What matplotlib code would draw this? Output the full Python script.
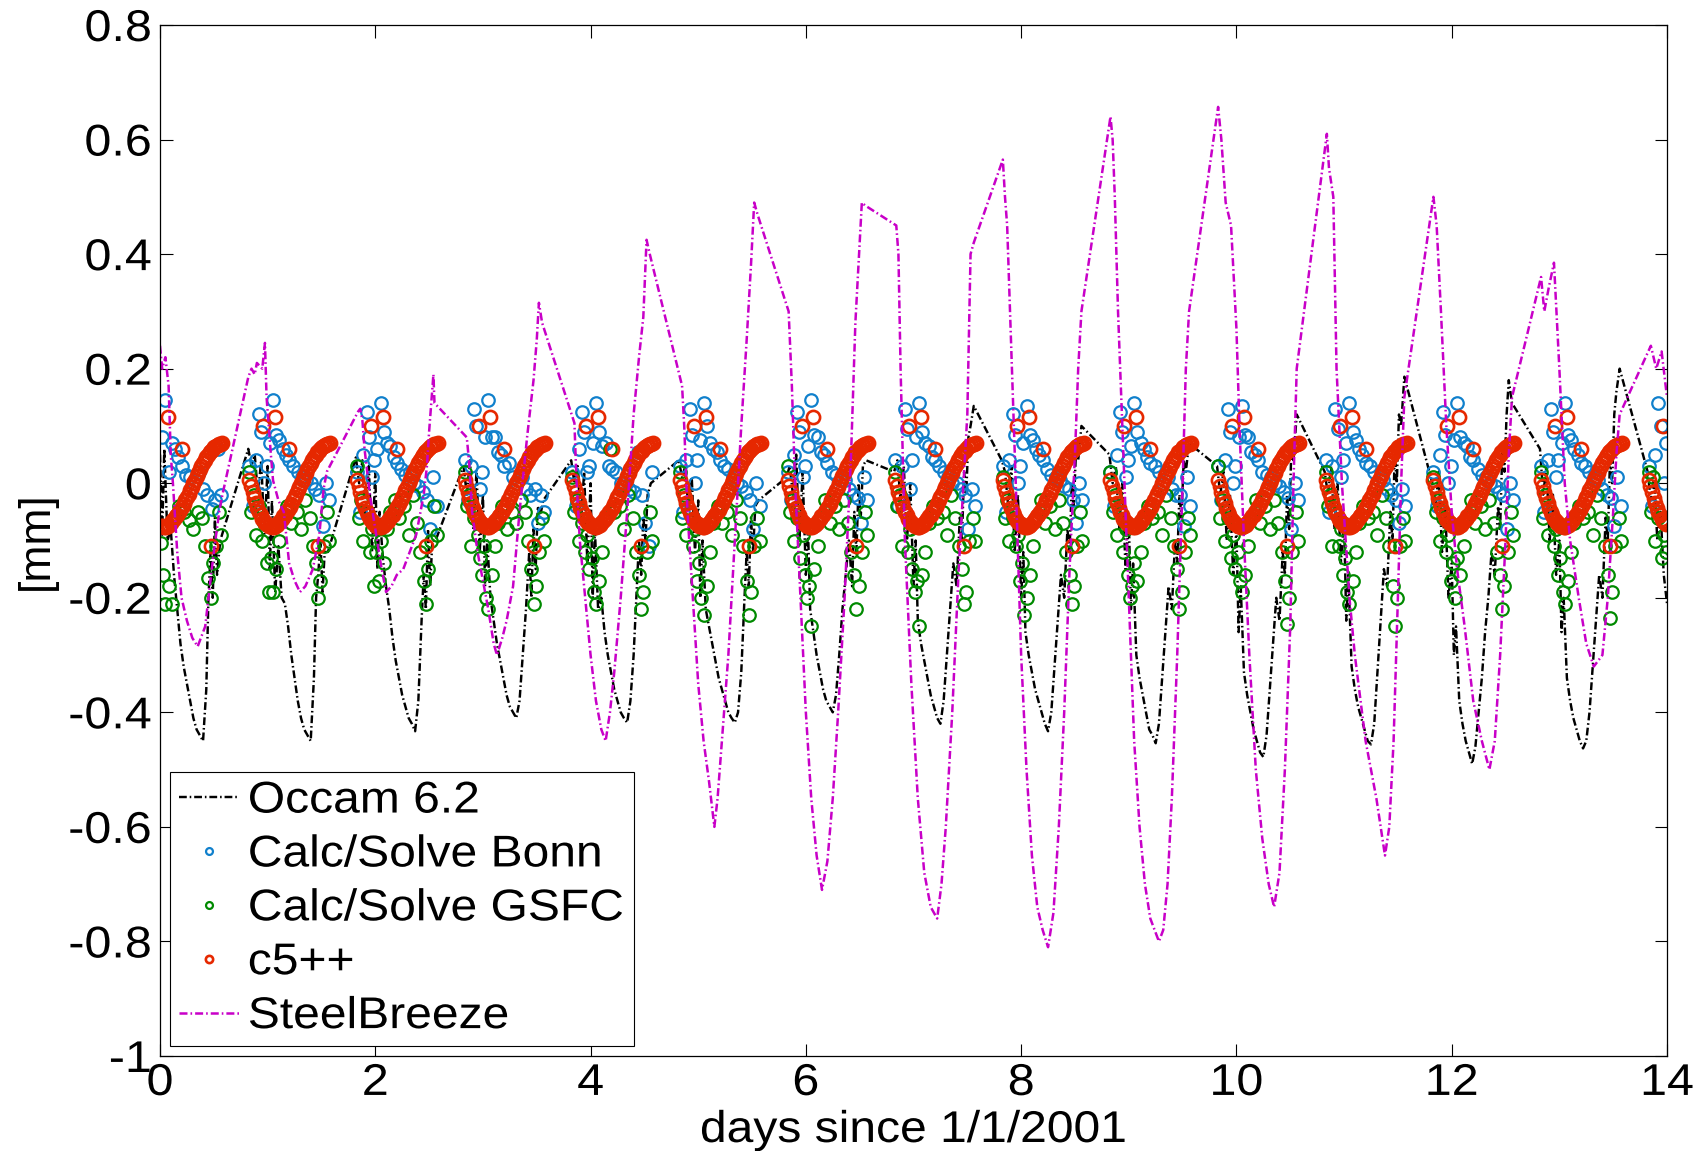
import numpy as np
import matplotlib
matplotlib.use('Agg')
import matplotlib.pyplot as plt
from matplotlib.patheffects import AbstractPathEffect
from matplotlib.transforms import Affine2D

plt.rcParams['font.family'] = ['Liberation Sans', 'DejaVu Sans']
plt.rcParams['axes.unicode_minus'] = False

nan = np.nan
session_days = list(range(15))

# ---------------- Occam 6.2 (black dash-dot) ----------------
occam_offsets = [-0.18, -0.15, -0.12, -0.09, -0.06, -0.03, 0.0, 0.02, 0.04, 0.07,
                 0.10, 0.13, 0.16, 0.19, 0.22, 0.25, 0.28, 0.31, 0.34, 0.37,
                 0.40, 0.43, 0.45, 0.47, 0.49, 0.51, 0.53, 0.56]
occam_daily = [
    [nan, nan, nan, nan, nan, nan, 0.05, -0.09, 0.06, -0.1, -0.08, -0.16, -0.22, -0.28, -0.32, -0.35, -0.38, -0.41, -0.43, -0.44, -0.45, -0.36, -0.2, -0.12, -0.2, -0.06, -0.16, -0.1],
    [0.06, 0.03, 0.05, -0.02, 0.04, -0.09, 0.03, -0.15, -0.03, -0.19, -0.11, -0.2, -0.21, -0.25, -0.3, -0.34, -0.38, -0.41, -0.43, -0.44, -0.45, -0.34, -0.2, -0.16, -0.1, -0.19, -0.12, -0.12],
    [0.045, 0.0, 0.04, -0.06, 0.03, -0.12, 0.02, -0.15, -0.05, -0.13, -0.18, -0.22, -0.27, -0.31, -0.34, -0.37, -0.39, -0.41, -0.42, -0.433, -0.38, -0.24, -0.16, -0.22, -0.08, -0.18, -0.1, -0.1],
    [0.03, -0.02, 0.04, -0.08, 0.02, -0.12, -0.02, -0.18, -0.1, -0.2, -0.24, -0.28, -0.31, -0.34, -0.37, -0.39, -0.4, -0.41, -0.38, -0.3, -0.22, -0.12, -0.2, -0.08, -0.15, -0.04, -0.06, -0.03],
    [0.04, 0.0, 0.03, -0.07, 0.02, -0.14, 0.0, -0.2, -0.08, -0.22, -0.2, -0.26, -0.3, -0.33, -0.36, -0.38, -0.4, -0.41, -0.418, -0.38, -0.3, -0.18, -0.1, -0.16, -0.06, -0.1, -0.02, 0.0],
    [0.04, 0.01, 0.03, -0.05, 0.01, -0.12, -0.03, -0.2, -0.1, -0.22, -0.25, -0.28, -0.31, -0.34, -0.36, -0.38, -0.4, -0.41, -0.418, -0.4, -0.33, -0.2, -0.12, -0.18, -0.06, -0.12, -0.04, -0.03],
    [0.01, 0.03, -0.02, 0.05, -0.1, 0.02, -0.16, -0.08, -0.22, -0.26, -0.3, -0.33, -0.36, -0.38, -0.39, -0.4, -0.37, -0.3, -0.22, -0.16, -0.1, -0.18, -0.05, -0.12, 0.0, -0.06, 0.03, 0.04],
    [0.02, 0.04, -0.03, 0.03, -0.1, 0.0, -0.18, -0.1, -0.24, -0.28, -0.31, -0.34, -0.37, -0.39, -0.41, -0.42, -0.38, -0.3, -0.22, -0.14, -0.18, -0.06, -0.1, 0.02, -0.02, 0.08, 0.1, 0.135],
    [0.04, 0.02, -0.04, 0.03, -0.12, -0.02, -0.2, -0.12, -0.26, -0.3, -0.33, -0.36, -0.38, -0.4, -0.42, -0.433, -0.4, -0.32, -0.24, -0.16, -0.2, -0.08, -0.12, 0.0, -0.04, 0.06, 0.04, 0.1],
    [0.05, 0.0, 0.03, -0.08, 0.0, -0.15, -0.06, -0.22, -0.14, -0.3, -0.34, -0.37, -0.4, -0.43, -0.44, -0.454, -0.42, -0.34, -0.26, -0.18, -0.22, -0.1, -0.14, -0.02, -0.06, 0.04, 0.02, 0.07],
    [0.03, -0.02, 0.02, -0.1, -0.02, -0.16, -0.08, -0.26, -0.18, -0.33, -0.37, -0.4, -0.43, -0.45, -0.47, -0.478, -0.44, -0.36, -0.28, -0.2, -0.24, -0.12, -0.16, -0.02, -0.08, 0.06, 0.04, 0.12],
    [0.02, -0.02, 0.03, -0.08, 0.0, -0.14, -0.06, -0.24, -0.16, -0.32, -0.36, -0.39, -0.41, -0.43, -0.45, -0.456, -0.42, -0.33, -0.24, -0.15, -0.18, -0.05, -0.1, 0.05, 0.0, 0.12, 0.1, 0.186],
    [0.0, -0.04, 0.02, -0.12, -0.04, -0.2, -0.14, -0.3, -0.25, -0.38, -0.42, -0.45, -0.47, -0.49, -0.46, -0.4, -0.34, -0.26, -0.2, -0.12, -0.16, -0.04, -0.08, 0.06, 0.02, 0.12, 0.18, 0.14],
    [0.06, -0.02, 0.03, -0.1, -0.02, -0.16, -0.1, -0.26, -0.2, -0.34, -0.38, -0.41, -0.43, -0.45, -0.463, -0.45, -0.4, -0.32, -0.24, -0.16, -0.2, -0.06, -0.1, 0.04, 0.0, 0.12, 0.16, 0.2],
    [0.02, -0.03, 0.01, -0.1, -0.05, -0.16, -0.21, nan, nan, nan, nan, nan, nan, nan, nan, nan, nan, nan, nan, nan, nan, nan, nan, nan, nan, nan, nan, nan],
]

# ---------------- Calc/Solve Bonn (blue circles) ----------------
bonn_offsets = [-0.17, -0.14, -0.11, -0.08, -0.06, -0.03, -0.01, 0.02, 0.05, 0.08,
                0.11, 0.14, 0.17, 0.20, 0.24, 0.28, 0.32, 0.36, 0.40, 0.44,
                0.48, 0.51, 0.54, 0.57]
bonn_daily = [
    [nan, nan, nan, nan, nan, nan, nan, 0.08, 0.145, 0.02, 0.07, 0.06, 0.045, 0.03, 0.015, 0.01, 0.0, 0.02, -0.01, -0.02, -0.045, -0.03, 0.06, -0.02],
    [0.03, -0.04, 0.04, 0.12, 0.09, 0.0, 0.03, 0.07, 0.145, 0.085, 0.075, 0.06, 0.05, 0.04, 0.03, 0.02, 0.01, 0.005, 0.0, -0.01, -0.02, -0.075, 0.0, -0.03],
    [0.02, -0.05, 0.05, 0.125, 0.08, 0.01, 0.04, 0.06, 0.14, 0.09, 0.07, 0.065, 0.045, 0.035, 0.025, 0.015, 0.02, 0.0, -0.005, -0.015, -0.03, -0.08, 0.01, -0.04],
    [0.04, -0.03, 0.03, 0.13, 0.1, -0.01, 0.02, 0.08, 0.145, 0.08, 0.08, 0.055, 0.05, 0.03, 0.035, 0.01, 0.0, 0.01, -0.01, -0.02, -0.01, -0.07, -0.02, -0.05],
    [0.02, -0.04, 0.06, 0.124, 0.09, 0.02, 0.03, 0.07, 0.14, 0.09, 0.065, 0.07, 0.03, 0.025, 0.02, 0.0, -0.005, -0.01, -0.015, 0.055, -0.02, -0.07, -0.11, 0.02],
    [0.03, -0.05, 0.04, 0.13, 0.085, 0.0, 0.04, 0.075, 0.14, 0.1, 0.07, 0.06, 0.055, 0.04, 0.03, 0.025, 0.01, 0.0, -0.005, -0.015, -0.03, -0.08, 0.0, -0.04],
    [0.02, -0.03, 0.05, 0.125, 0.09, 0.01, 0.03, 0.065, 0.145, 0.085, 0.08, 0.055, 0.05, 0.035, 0.02, 0.015, 0.005, 0.005, -0.01, -0.02, -0.025, -0.07, 0.01, -0.03],
    [0.04, -0.04, 0.03, 0.13, 0.095, -0.01, 0.04, 0.08, 0.14, 0.09, 0.07, 0.065, 0.045, 0.04, 0.03, 0.02, 0.01, 0.0, 0.0, -0.01, -0.02, -0.08, -0.01, -0.04],
    [0.03, -0.05, 0.04, 0.12, 0.085, 0.0, 0.03, 0.07, 0.135, 0.085, 0.075, 0.06, 0.05, 0.04, 0.025, 0.015, 0.01, 0.005, -0.005, -0.01, -0.03, -0.07, 0.0, -0.03],
    [0.02, -0.04, 0.05, 0.125, 0.09, 0.01, 0.04, 0.065, 0.14, 0.09, 0.07, 0.06, 0.045, 0.035, 0.03, 0.02, 0.0, 0.01, -0.01, -0.02, -0.02, -0.075, 0.01, -0.04],
    [0.03, -0.03, 0.04, 0.13, 0.09, 0.0, 0.03, 0.08, 0.135, 0.085, 0.08, 0.055, 0.05, 0.04, 0.02, 0.015, 0.01, 0.0, -0.005, -0.015, -0.025, -0.08, 0.0, -0.03],
    [0.04, -0.05, 0.03, 0.13, 0.095, 0.01, 0.04, 0.07, 0.14, 0.09, 0.075, 0.06, 0.05, 0.035, 0.03, 0.02, 0.005, 0.005, -0.01, -0.02, -0.03, -0.07, -0.01, -0.04],
    [0.02, -0.04, 0.05, 0.125, 0.085, 0.0, 0.03, 0.075, 0.14, 0.08, 0.07, 0.065, 0.045, 0.04, 0.025, 0.015, 0.01, 0.0, -0.005, -0.015, -0.02, -0.08, 0.0, -0.03],
    [0.03, -0.05, 0.04, 0.13, 0.09, 0.01, 0.04, 0.07, 0.14, 0.085, 0.075, 0.06, 0.05, 0.035, 0.03, 0.02, 0.01, 0.005, -0.01, -0.02, -0.025, -0.075, 0.01, -0.04],
    [0.03, -0.04, 0.05, 0.14, 0.1, 0.0, 0.07, nan, nan, nan, nan, nan, nan, nan, nan, nan, nan, nan, nan, nan, nan, nan, nan, nan],
]

# ---------------- Calc/Solve GSFC (green circles) ----------------
gsfc_offsets = [-0.17, -0.15, -0.13, -0.11, -0.08, -0.05, -0.03, -0.01, 0.01, 0.03,
                0.05, 0.08, 0.11, 0.14, 0.18, 0.22, 0.27, 0.31, 0.35, 0.39,
                0.42, 0.45, 0.47, 0.49, 0.52, 0.55, 0.57]
gsfc_daily = [
    [nan, nan, nan, nan, nan, nan, nan, nan, -0.105, -0.16, -0.21, -0.18, -0.21, -0.06, -0.04, -0.05, -0.065, -0.08, -0.05, -0.06, -0.11, -0.165, -0.2, -0.14, -0.11, -0.05, -0.09],
    [0.02, -0.05, -0.02, -0.09, -0.04, -0.1, -0.07, -0.14, -0.19, -0.13, -0.19, -0.15, -0.1, -0.06, -0.04, -0.07, -0.05, -0.08, -0.03, -0.06, -0.11, -0.14, -0.2, -0.17, -0.11, -0.05, -0.1],
    [0.03, -0.06, -0.03, -0.1, -0.05, -0.12, -0.08, -0.18, -0.12, -0.17, -0.1, -0.14, -0.08, -0.05, -0.03, -0.06, -0.04, -0.09, -0.02, -0.07, -0.12, -0.17, -0.21, -0.15, -0.1, -0.04, -0.09],
    [0.02, -0.04, -0.02, -0.11, -0.06, -0.09, -0.13, -0.16, -0.11, -0.2, -0.22, -0.16, -0.11, -0.07, -0.04, -0.08, -0.05, -0.07, -0.03, -0.05, -0.1, -0.15, -0.21, -0.18, -0.12, -0.06, -0.1],
    [0.01, -0.05, -0.03, -0.1, -0.07, -0.12, -0.09, -0.15, -0.13, -0.19, -0.21, -0.17, -0.12, -0.06, 0.06, -0.05, -0.04, -0.08, -0.02, -0.06, -0.12, -0.16, -0.22, -0.19, -0.12, -0.05, -0.1],
    [0.02, -0.06, -0.02, -0.09, -0.05, -0.11, -0.08, -0.17, -0.14, -0.2, -0.23, -0.18, -0.12, -0.07, -0.04, -0.07, -0.05, -0.09, -0.03, -0.06, -0.11, -0.17, -0.23, -0.19, -0.11, -0.06, -0.1],
    [0.03, -0.05, -0.03, -0.1, -0.06, -0.13, -0.09, -0.16, -0.2, -0.18, -0.25, -0.15, -0.11, -0.06, -0.03, -0.07, -0.04, -0.08, -0.03, -0.07, -0.12, -0.16, -0.22, -0.18, -0.12, -0.05, -0.09],
    [0.02, -0.04, -0.02, -0.11, -0.05, -0.12, -0.08, -0.15, -0.19, -0.17, -0.25, -0.16, -0.12, -0.07, -0.04, -0.06, -0.05, -0.09, -0.02, -0.06, -0.11, -0.15, -0.21, -0.19, -0.1, -0.06, -0.1],
    [0.01, -0.06, -0.03, -0.1, -0.06, -0.11, -0.09, -0.17, -0.14, -0.23, -0.2, -0.16, -0.11, -0.06, -0.03, -0.07, -0.04, -0.08, -0.03, -0.07, -0.12, -0.16, -0.21, -0.18, -0.11, -0.05, -0.1],
    [0.02, -0.05, -0.02, -0.09, -0.05, -0.12, -0.08, -0.16, -0.2, -0.18, -0.14, -0.17, -0.12, -0.07, -0.04, -0.06, -0.05, -0.09, -0.02, -0.06, -0.11, -0.15, -0.22, -0.19, -0.12, -0.06, -0.09],
    [0.03, -0.06, -0.03, -0.1, -0.06, -0.13, -0.09, -0.15, -0.12, -0.17, -0.19, -0.16, -0.11, -0.06, -0.03, -0.07, -0.04, -0.08, -0.03, -0.07, -0.12, -0.17, -0.245, -0.2, -0.12, -0.05, -0.1],
    [0.02, -0.04, -0.02, -0.11, -0.05, -0.11, -0.08, -0.16, -0.13, -0.19, -0.21, -0.17, -0.12, -0.07, -0.04, -0.06, -0.05, -0.09, -0.02, -0.06, -0.11, -0.18, -0.25, -0.2, -0.11, -0.06, -0.1],
    [0.01, -0.05, -0.03, -0.1, -0.06, -0.12, -0.09, -0.17, -0.14, -0.2, -0.13, -0.16, -0.11, -0.06, -0.03, -0.07, -0.04, -0.08, -0.03, -0.07, -0.12, -0.16, -0.22, -0.18, -0.12, -0.05, -0.09],
    [0.02, -0.06, -0.02, -0.09, -0.05, -0.11, -0.08, -0.16, -0.13, -0.19, -0.21, -0.17, -0.12, -0.07, -0.04, -0.06, -0.05, -0.09, -0.02, -0.06, -0.11, -0.16, -0.235, -0.19, -0.11, -0.06, -0.1],
    [0.02, -0.05, 0.01, -0.1, -0.06, -0.13, -0.09, -0.12, nan, nan, nan, nan, nan, nan, nan, nan, nan, nan, nan, nan, nan, nan, nan, nan, nan, nan, nan],
]

# ---------------- c5++ (red circles): daily curve + scattered epochs ----------------
c5_curve_offsets = [-0.17, -0.155, -0.14, -0.125, -0.11, -0.095, -0.08, -0.065, -0.05, -0.035,
                    -0.02, -0.005, 0.01, 0.025, 0.04, 0.055, 0.07, 0.085, 0.10, 0.115,
                    0.13, 0.145, 0.16, 0.175, 0.19, 0.205, 0.22, 0.235, 0.25, 0.265,
                    0.28, 0.295, 0.31, 0.325, 0.34, 0.355, 0.37, 0.385, 0.40, 0.415,
                    0.43, 0.445, 0.46, 0.475, 0.49, 0.505, 0.52, 0.535, 0.55, 0.565, 0.58]
c5_curve_values = [0.005, -0.005, -0.015, -0.025, -0.035, -0.043, -0.05, -0.056, -0.062, -0.066,
                   -0.069, -0.072, -0.074, -0.075, -0.076, -0.076, -0.075, -0.073, -0.07, -0.066,
                   -0.062, -0.058, -0.055, -0.051, -0.047, -0.042, -0.036, -0.03, -0.024, -0.018,
                   -0.012, -0.006, 0.0, 0.006, 0.012, 0.018, 0.024, 0.03, 0.036, 0.041,
                   0.046, 0.05, 0.054, 0.057, 0.06, 0.063, 0.065, 0.067, 0.068, 0.069, 0.07]
c5_extra_offsets = [-0.04, 0.07, 0.20, 0.47]
c5_extra_values = [0.10, 0.115, 0.06, -0.11]

# ---------------- SteelBreeze (magenta dash-dot), vertices (day, mm) ----------------
sb_vertices = [
    (0.00, 0.24), (0.02, 0.20), (0.05, 0.22), (0.08, 0.17), (0.10, 0.05), (0.12, 0.0), (0.16, -0.12),
    (0.20, -0.20), (0.25, -0.24), (0.30, -0.27), (0.35, -0.285), (0.38, -0.27), (0.42, -0.25),
    (0.45, -0.20), (0.50, -0.12), (0.55, -0.05), (0.58, -0.02),
    (0.82, 0.185), (0.85, 0.20), (0.88, 0.19), (0.90, 0.21), (0.95, 0.20), (0.975, 0.245), (0.99, 0.15),
    (1.03, 0.05), (1.05, 0.005), (1.10, -0.03), (1.15, -0.05), (1.20, -0.14), (1.25, -0.17), (1.30, -0.19),
    (1.35, -0.18), (1.42, -0.15), (1.48, -0.09), (1.52, -0.01), (1.55, 0.02),
    (1.84, 0.125), (1.86, 0.13), (1.88, 0.11), (1.90, 0.06), (1.95, -0.02), (2.00, -0.08), (2.05, -0.14),
    (2.10, -0.19), (2.15, -0.18), (2.20, -0.16), (2.26, -0.15), (2.32, -0.12), (2.38, -0.09), (2.45, -0.02),
    (2.48, 0.03), (2.50, 0.09), (2.54, 0.19), (2.55, 0.14),
    (2.85, 0.08), (2.87, 0.04), (2.90, -0.05), (2.95, -0.12), (3.00, -0.17), (3.05, -0.22), (3.10, -0.28),
    (3.13, -0.30), (3.18, -0.27), (3.22, -0.24), (3.28, -0.18), (3.34, -0.05), (3.41, 0.08), (3.47, 0.18),
    (3.50, 0.25), (3.52, 0.315), (3.55, 0.28),
    (3.85, 0.105), (3.87, 0.0), (3.90, -0.10), (3.95, -0.20), (4.00, -0.30), (4.05, -0.38), (4.10, -0.43),
    (4.14, -0.45), (4.18, -0.40), (4.22, -0.33), (4.28, -0.20), (4.34, -0.05), (4.40, 0.12), (4.45, 0.22),
    (4.49, 0.29), (4.52, 0.425), (4.55, 0.40),
    (4.85, 0.17), (4.87, 0.10), (4.90, -0.05), (4.95, -0.20), (5.00, -0.35), (5.05, -0.45), (5.10, -0.52),
    (5.15, -0.60), (5.18, -0.55), (5.22, -0.45), (5.28, -0.30), (5.34, -0.10), (5.40, 0.10), (5.45, 0.25),
    (5.49, 0.38), (5.52, 0.49), (5.55, 0.47),
    (5.84, 0.30), (5.87, 0.17), (5.90, 0.0), (5.95, -0.20), (6.00, -0.40), (6.05, -0.55), (6.10, -0.65),
    (6.15, -0.71), (6.20, -0.66), (6.25, -0.55), (6.30, -0.40), (6.36, -0.20), (6.42, 0.05), (6.46, 0.28),
    (6.52, 0.49), (6.55, 0.485),
    (6.84, 0.45), (6.86, 0.40), (6.88, 0.20), (6.92, -0.10), (6.98, -0.35), (7.04, -0.55), (7.10, -0.68),
    (7.16, -0.74), (7.22, -0.76), (7.26, -0.70), (7.30, -0.60), (7.36, -0.40), (7.42, -0.15), (7.48, 0.05),
    (7.50, 0.12), (7.53, 0.40), (7.56, 0.42),
    (7.83, 0.565), (7.85, 0.50), (7.87, 0.45), (7.90, 0.28), (7.95, 0.0), (8.00, -0.30), (8.05, -0.50),
    (8.10, -0.65), (8.15, -0.74), (8.20, -0.78), (8.25, -0.81), (8.30, -0.75), (8.35, -0.60), (8.40, -0.40),
    (8.45, -0.15), (8.50, 0.05), (8.53, 0.20), (8.56, 0.30),
    (8.83, 0.64), (8.85, 0.60), (8.87, 0.50), (8.90, 0.30), (8.95, 0.05), (9.00, -0.20), (9.05, -0.45),
    (9.10, -0.60), (9.15, -0.70), (9.20, -0.76), (9.28, -0.80), (9.32, -0.78), (9.36, -0.70), (9.40, -0.55),
    (9.45, -0.30), (9.50, 0.0), (9.53, 0.20), (9.56, 0.30),
    (9.83, 0.657), (9.86, 0.60), (9.90, 0.49), (9.95, 0.45), (10.00, 0.27), (10.03, 0.09), (10.07, -0.10),
    (10.12, -0.30), (10.18, -0.50), (10.24, -0.62), (10.30, -0.70), (10.35, -0.74), (10.40, -0.68),
    (10.45, -0.50), (10.50, -0.25), (10.53, 0.0), (10.56, 0.20),
    (10.84, 0.61), (10.86, 0.55), (10.90, 0.50), (10.93, 0.20), (10.98, 0.0), (11.05, -0.20), (11.10, -0.30),
    (11.20, -0.45), (11.30, -0.55), (11.38, -0.65), (11.42, -0.60), (11.46, -0.45), (11.50, -0.20),
    (11.53, 0.0), (11.56, 0.15),
    (11.83, 0.50), (11.86, 0.45), (11.90, 0.30), (11.95, 0.10), (12.00, -0.05), (12.05, -0.15), (12.12, -0.25),
    (12.20, -0.38), (12.28, -0.45), (12.35, -0.50), (12.40, -0.45), (12.45, -0.30), (12.50, -0.10),
    (12.53, 0.05), (12.56, 0.15),
    (12.83, 0.36), (12.86, 0.30), (12.90, 0.34), (12.95, 0.385), (13.00, 0.20), (13.05, 0.0), (13.10, -0.10),
    (13.18, -0.20), (13.25, -0.28), (13.32, -0.32), (13.40, -0.30), (13.45, -0.20), (13.50, -0.05),
    (13.53, 0.05), (13.56, 0.12),
    (13.85, 0.24), (13.90, 0.20), (13.95, 0.23), (14.00, 0.15),
]

tick_x = [0, 2, 4, 6, 8, 10, 12, 14]
tick_y = [-1, -0.8, -0.6, -0.4, -0.2, 0, 0.2, 0.4, 0.6, 0.8]
tick_y_labels = ['-1', '-0.8', '-0.6', '-0.4', '-0.2', '0', '0.2', '0.4', '0.6', '0.8']


def expand(offsets, rows):
    xs, ys = [], []
    for d, row in zip(session_days, rows):
        for o, v in zip(offsets, row):
            x = d + o
            if v != v or x < 0 or x > 14:
                continue
            xs.append(x)
            ys.append(v)
    return np.array(xs), np.array(ys)


class HStretch(AbstractPathEffect):
    """Widen glyphs horizontally (the reference text is slightly stretched)."""
    def __init__(self, sx=1.09, anchor='center'):
        super().__init__()
        self.sx = sx
        self.anchor = anchor

    def draw_path(self, renderer, gc, tpath, affine, rgbFace=None):
        ext = tpath.get_extents()
        if self.anchor == 'left':
            cx = 0.0
        elif self.anchor == 'right':
            cx = ext.x1
        else:
            cx = 0.5 * (ext.x0 + ext.x1)
        t = Affine2D().translate(-cx, 0).scale(self.sx, 1.0).translate(cx, 0) + affine
        renderer.draw_path(gc, tpath, t, rgbFace)


occam_x, occam_y = expand(occam_offsets, occam_daily)
bonn_x, bonn_y = expand(bonn_offsets, bonn_daily)
gsfc_x, gsfc_y = expand(gsfc_offsets, gsfc_daily)
c5_x1, c5_y1 = expand(c5_curve_offsets, [c5_curve_values] * len(session_days))
c5_x2, c5_y2 = expand(c5_extra_offsets, [c5_extra_values] * len(session_days))
c5_x = np.concatenate([c5_x1, c5_x2])
c5_y = np.concatenate([c5_y1, c5_y2])
sb_x = np.array([p[0] for p in sb_vertices])
sb_y = np.array([p[1] for p in sb_vertices])

BLUE = '#1080cc'
GREEN = '#008a00'
RED = '#e62800'
MAGENTA = '#c800c8'
dashdot = (0, (3.2, 1.2, 0.65, 1.2))

fig = plt.figure(figsize=(16.96, 11.51), dpi=100)
ax = fig.add_axes([160 / 1696, 1 - 1056 / 1151, 1507 / 1696, 1031 / 1151])

ax.plot(occam_x, occam_y, color='k', lw=1.75, ls=dashdot, label='Occam 6.2')
ax.plot(bonn_x, bonn_y, 'o', mfc='none', mec=BLUE, ms=9, mew=1.6, label='Calc/Solve Bonn')
ax.plot(gsfc_x, gsfc_y, 'o', mfc='none', mec=GREEN, ms=9, mew=1.6, label='Calc/Solve GSFC')
ax.plot(c5_x, c5_y, 'o', mfc='none', mec=RED, ms=9.5, mew=1.9, label='c5++')
ax.plot(sb_x, sb_y, color=MAGENTA, lw=1.8, ls=dashdot, label='SteelBreeze')

ax.set_xlim(0, 14)
ax.set_ylim(-1, 0.8)
ax.set_xticks(tick_x)
ax.set_xticklabels([str(t) for t in tick_x])
ax.set_yticks(tick_y)
ax.set_yticklabels(tick_y_labels)
ax.tick_params(direction='in', length=9, width=0.8, top=True, right=True, labelsize=32)
ax.tick_params(axis='x', pad=5)
ax.tick_params(axis='y', pad=6)
for s in ax.spines.values():
    s.set_linewidth(0.9)

for t in ax.xaxis.get_major_ticks():
    t.label1.set_path_effects([HStretch(1.09, 'center')])
for t in ax.yaxis.get_major_ticks():
    t.label1.set_path_effects([HStretch(1.09, 'right')])

ax.set_xlabel('days since 1/1/2001', fontsize=32)
ax.xaxis.set_label_coords(0.5, -(1110 - 1056) / 1031)
ax.xaxis.label.set_path_effects([HStretch(1.08, 'center')])
ax.set_ylabel('[mm]', fontsize=32)
ax.yaxis.set_label_coords((57 - 160) / 1507, 0.5)

leg = ax.legend(loc='lower left', bbox_to_anchor=(10 / 1507, 10 / 1031, 464 / 1507, 0.3),
                mode='expand', borderaxespad=0,
                fontsize=32, frameon=True, fancybox=False, edgecolor='k', framealpha=1,
                handlelength=1.35, handletextpad=0.2, labelspacing=0.29, borderpad=0.2,
                markerscale=0.55, numpoints=1)
leg.get_frame().set_linewidth(0.8)
for txt in leg.get_texts():
    txt.set_path_effects([HStretch(1.08, 'left')])

fig.savefig('out.png', dpi=100)
